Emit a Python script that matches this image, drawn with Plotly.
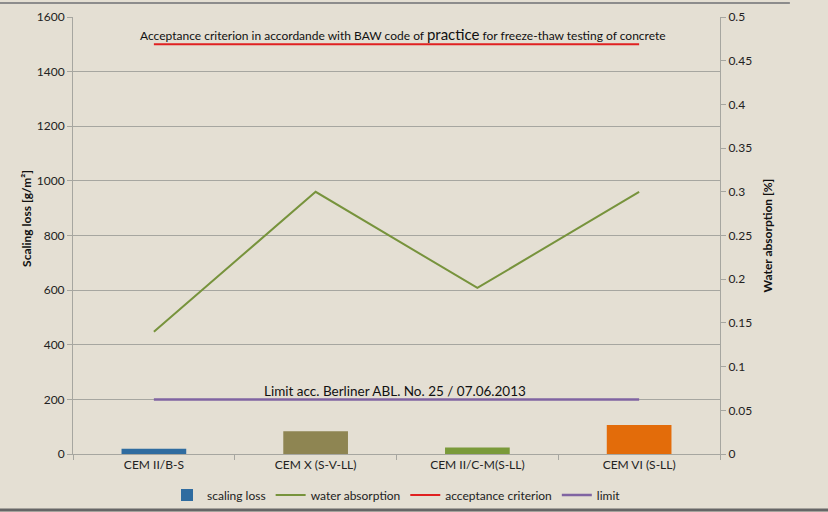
import plotly.graph_objects as go

categories = ["CEM II/B-S", "CEM X (S-V-LL)", "CEM II/C-M(S-LL)", "CEM VI (S-LL)"]
scaling_loss = [19, 83, 24, 106]
water_absorption = [0.14, 0.30, 0.19, 0.30]
acceptance_criterion = [1500, 1500, 1500, 1500]
limit = [200, 200, 200, 200]
bar_colors = ["#2F6CA0", "#8E8552", "#7A9A3A", "#E36C0A"]

bg = "#E4DFD3"
grid = "#A6A6A0"
font = "Lato"

fig = go.Figure()
fig.add_trace(go.Bar(x=categories, y=scaling_loss, name="scaling loss",
                     marker=dict(color=bar_colors, line=dict(width=0)), width=0.4))
fig.add_trace(go.Scatter(x=categories, y=water_absorption, name="water absorption",
                         mode="lines", line=dict(color="#77933C", width=2), yaxis="y2"))
fig.add_trace(go.Scatter(x=categories, y=acceptance_criterion, name="acceptance criterion",
                         mode="lines", line=dict(color="#E02020", width=2)))
fig.add_trace(go.Scatter(x=categories, y=limit, name="limit",
                         mode="lines", line=dict(color="#8064A2", width=2.5)))

fig.add_annotation(x=0.51, xref="paper", y=1500, yref="y", yanchor="bottom", yshift=-1,
                   text="Acceptance criterion in accordande with BAW code of <span style='font-size:15px'>practice</span> for freeze-thaw testing of concrete",
                   showarrow=False, font=dict(family=font, size=12, color="#111"))
fig.add_annotation(x=0.498, xref="paper", y=200, yref="y", yanchor="bottom", yshift=-2,
                   text="Limit acc. Berliner ABL. No. 25 / 07.06.2013",
                   showarrow=False, font=dict(family=font, size=13.5, color="#111"))
fig.add_annotation(x=0, xref="paper", xshift=-46, xanchor="center", y=0.538, yref="paper",
                   yanchor="middle", textangle=-90,
                   text="<b>Scaling loss [g/m²]</b>", showarrow=False,
                   font=dict(family=font, size=12, color="#111"))

fig.update_layout(
    width=828, height=512,
    margin=dict(l=73, r=108, t=17, b=58, autoexpand=False),
    paper_bgcolor=bg, plot_bgcolor=bg,
    font=dict(family=font, size=12, color="#222"),
    showlegend=True,
    legend=dict(orientation="h", x=0.50, xanchor="center", y=-0.094, yanchor="middle",
                font=dict(family=font, size=12, color="#222"), bgcolor="rgba(0,0,0,0)",
                tracegroupgap=0),
    xaxis=dict(type="category", tickson="boundaries", ticks="outside", ticklen=5,
               tickcolor=grid, showline=True, linecolor=grid, showgrid=False,
               automargin=False, tickfont=dict(size=12, color="#222")),
    yaxis=dict(range=[0, 1600], dtick=200, showgrid=True, gridcolor=grid, gridwidth=1,
               showline=True, linecolor=grid, ticks="outside", ticklen=5, tickcolor=grid,
               zeroline=False, automargin=False, tickfont=dict(size=12, color="#222")),
    yaxis2=dict(range=[0, 0.5], dtick=0.05, overlaying="y", side="right", showgrid=False,
                showline=True, linecolor=grid, ticks="outside", ticklen=5, tickcolor=grid,
                zeroline=False, tickformat="~g", automargin=False, tickfont=dict(size=12, color="#222"),
                title=dict(text="<b>Water absorption [%]</b>", font=dict(size=12, color="#111"), standoff=12)),
)

fig.add_shape(type="line", xref="paper", yref="paper", x0=-0.113, x1=1.108, y0=1.032, y1=1.032,
              line=dict(color="#8C8C8C", width=2))
fig.add_shape(type="line", xref="paper", yref="paper", x0=-0.113, x1=1.20, y0=-0.128, y1=-0.128,
              line=dict(color="#666", width=3))

fig.write_html("out.html", config={"displayModeBar": False},
               post_script="document.body.style.margin='0';document.body.style.background='%s';" % bg)
